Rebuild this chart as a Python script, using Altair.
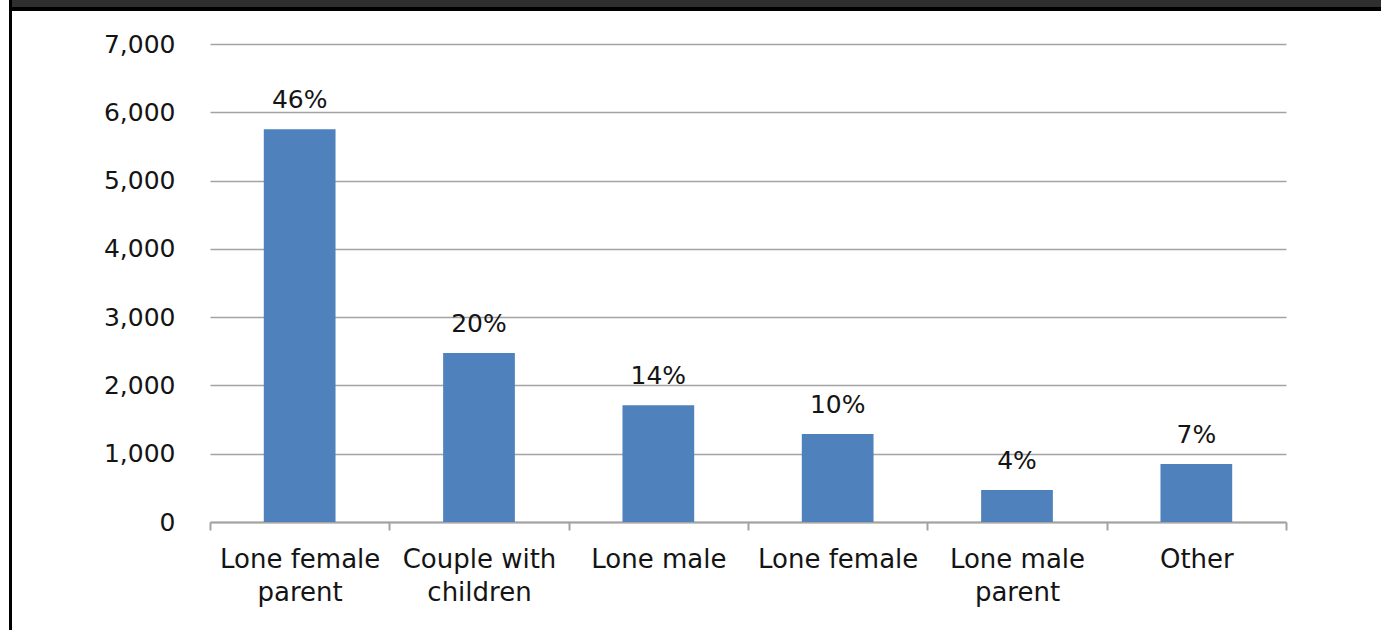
import altair as alt
import pandas as pd

# Household types and counts
categories = [
    "Lone female parent",
    "Couple with children",
    "Lone male",
    "Lone female",
    "Lone male parent",
    "Other",
]
counts = [5750, 2475, 1710, 1290, 470, 850]
shares = ["46%", "20%", "14%", "10%", "4%", "7%"]
y_ticks = [0, 1000, 2000, 3000, 4000, 5000, 6000, 7000]

df = pd.DataFrame({"type": categories, "count": counts, "share": shares})

FONT = "DejaVu Sans"
TEXT = "#141414"
GRID = "#a3a3a3"
BAR = "#4F81BD"

W, H = 1076, 478
PAD_L, PAD_T, PAD_R, PAD_B = 210, 44, 95, 108

# three-word categories wrap their last word onto a second line
wrap_expr = (
    "length(split(datum.label, ' ')) > 2 ? "
    "[join(slice(split(datum.label, ' '), 0, -1), ' '), peek(split(datum.label, ' '))] "
    ": datum.label"
)

x = alt.X(
    "type:N",
    sort=categories,
    scale=alt.Scale(paddingInner=0, paddingOuter=0),
    axis=alt.Axis(
        title=None,
        labelAngle=0,
        labelExpr=wrap_expr,
        labelFont=FONT,
        labelFontSize=26,
        labelColor=TEXT,
        labelPadding=16,
        labelLineHeight=33,
        labelBaseline="top",
        labelLimit=300,
        tickBand="extent",
        tickSize=8,
        tickColor=GRID,
        tickWidth=2,
        domainColor=GRID,
        domainWidth=2,
        grid=False,
    ),
)

y = alt.Y(
    "count:Q",
    scale=alt.Scale(domain=[0, 7000], nice=False),
    axis=alt.Axis(
        title=None,
        values=y_ticks,
        format=",.0f",
        labelFont=FONT,
        labelFontSize=25,
        labelColor=TEXT,
        labelPadding=35,
        ticks=False,
        domain=False,
        grid=True,
        gridColor=GRID,
        gridWidth=1.6,
    ),
)

base = alt.Chart(df)

bars = base.mark_bar(color=BAR, width=alt.RelativeBandSize(0.4)).encode(x=x, y=y)

labels = base.mark_text(
    font=FONT, fontSize=25, color=TEXT, baseline="middle", dy=-29
).encode(x=alt.X("type:N", sort=categories), y="count:Q", text="share:N")

# dark header band with a black rule beneath, and a black frame line on the left
header = alt.Chart(df).mark_rect(color="#2f2f2f", clip=False).encode(
    x=alt.value(9 - PAD_L), x2=alt.value(1381 - PAD_L),
    y=alt.value(-PAD_T), y2=alt.value(7 - PAD_T),
)
header_rule = alt.Chart(df).mark_rect(color="#000000", clip=False).encode(
    x=alt.value(9 - PAD_L), x2=alt.value(1381 - PAD_L),
    y=alt.value(7 - PAD_T), y2=alt.value(11 - PAD_T),
)
left_rule = alt.Chart(df).mark_rect(color="#000000", clip=False).encode(
    x=alt.value(9 - PAD_L), x2=alt.value(12 - PAD_L),
    y=alt.value(-PAD_T), y2=alt.value(H + PAD_B),
)

chart = (
    alt.layer(bars, labels, header, header_rule, left_rule)
    .properties(
        width=W,
        height=H,
        autosize=alt.AutoSizeParams(type="none"),
        padding={"left": PAD_L, "top": PAD_T, "right": PAD_R, "bottom": PAD_B},
        background="white",
    )
    .configure_view(stroke=None)
)

chart.save("out.html", embed_options={"renderer": "svg", "actions": False})
